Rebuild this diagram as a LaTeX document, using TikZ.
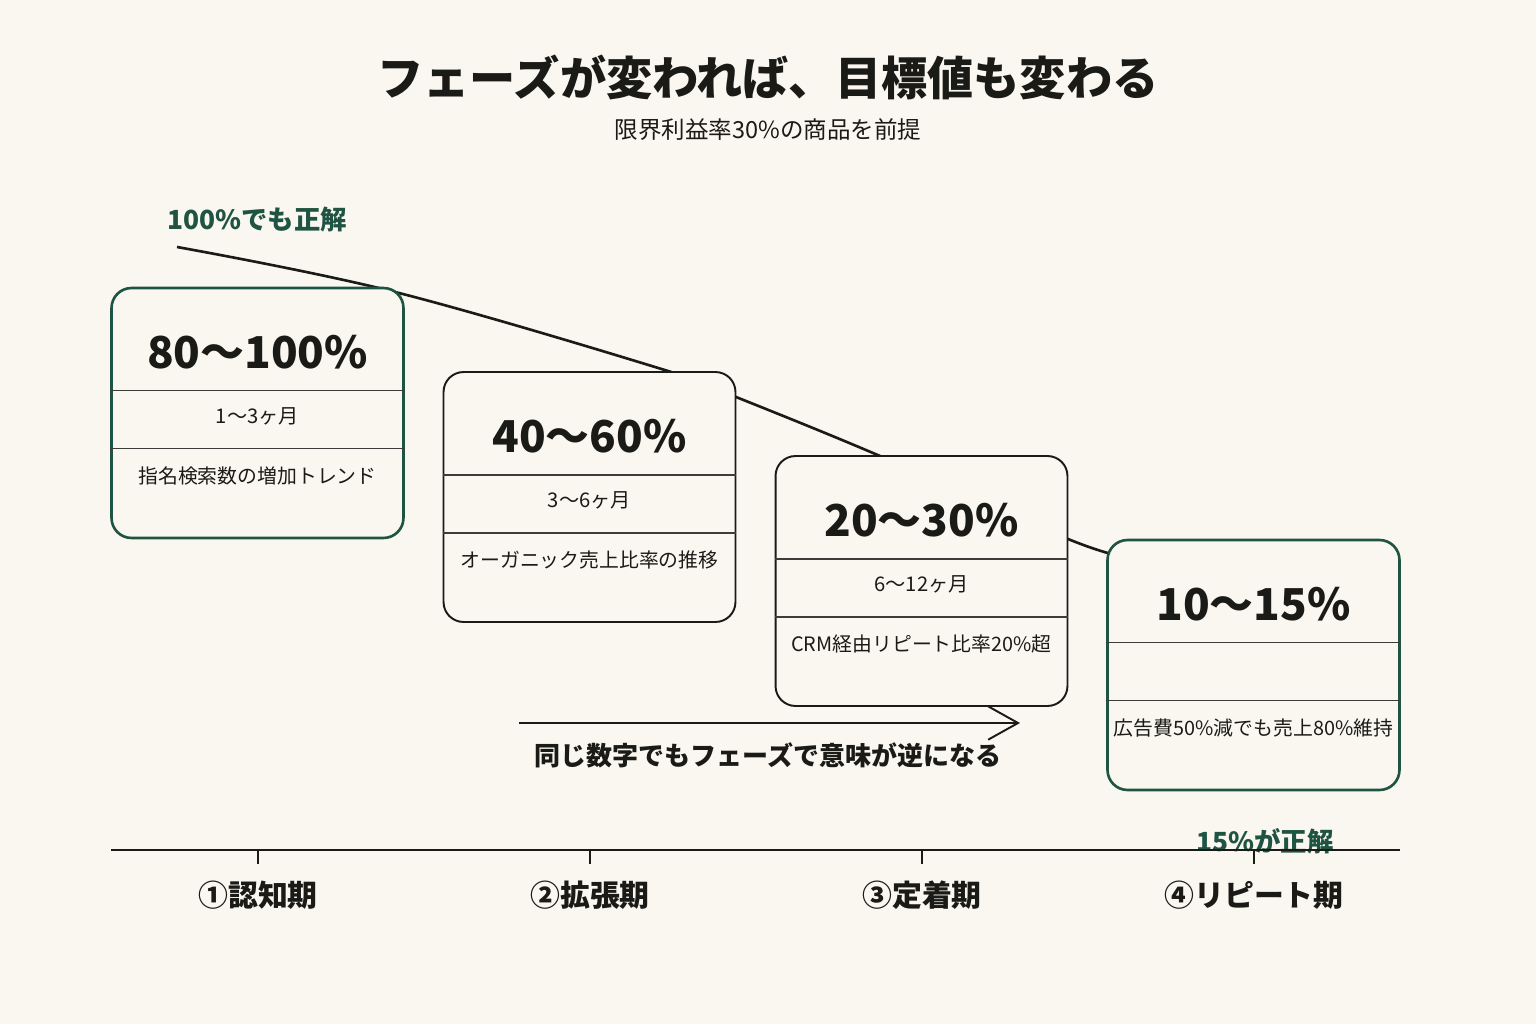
\documentclass[tikz,border=0pt]{standalone}
\usepackage{fontspec}
\setmainfont{Noto Sans CJK JP}
\usetikzlibrary{arrows.meta}
\definecolor{paper}{HTML}{FAF7F1}
\definecolor{pine}{HTML}{1F5443}
\definecolor{ink}{HTML}{1A1A17}

\begin{document}
\begin{tikzpicture}[x=0.02cm, y=-0.02cm,
  phasebox/.style={draw=ink, line width=1.1pt, fill=paper, rounded corners=0.4cm,
    minimum width=5.84cm, minimum height=5cm, inner sep=0pt},
  keybox/.style={phasebox, draw=pine, line width=1.5pt},
  divider/.style={draw=ink!85, line width=0.8pt},
  valuetext/.style={font=\bfseries\fontsize{25}{30}\selectfont, text=ink},
  periodtext/.style={font=\fontsize{11.5}{14}\selectfont, text=ink},
  kpitext/.style={font=\fontsize{11.3}{13}\selectfont, text=ink},
  notetext/.style={font=\bfseries\fontsize{15}{18}\selectfont, text=pine},
  phaselabel/.style={font=\bfseries\fontsize{17}{20}\selectfont, text=ink}]
\fill[paper] (0,0) rectangle (1536,1024);
\useasboundingbox (0,0) rectangle (1536,1024);

% title
\node[font=\bfseries\fontsize{26.3}{31}\selectfont, text=ink] (title) at (768,77) {フェーズが変われば、目標値も変わる};
\node[font=\fontsize{13.4}{16}\selectfont, text=ink] (subtitle) at (768,130) {限界利益率30\%の商品を前提};

% trend line behind the boxes
\draw[ink, line width=1.5pt] plot[smooth, tension=0.6] coordinates
  {(177,247) (395,292) (668,371) (736,397) (880,456) (1068,539) (1130,558)};
\node[notetext] (ok100) at (257,219) {100\%でも正解};

% phase boxes
\node[keybox] (b1) at (257.5,413) {};
\node[phasebox] (b2) at (589.5,497) {};
\node[phasebox] (b3) at (921.5,581) {};
\node[keybox] (b4) at (1253.5,665) {};
\foreach \b in {b1,b2,b3,b4} {
  \draw[divider] ([yshift=-2.08cm]\b.north west) -- ([yshift=-2.08cm]\b.north east);
  \draw[divider] ([yshift=-3.24cm]\b.north west) -- ([yshift=-3.24cm]\b.north east);
}

\node[valuetext] (v1) at (257.5,352) {80〜100\%};
\node[periodtext] (t1) at (257.5,416) {1〜3ヶ月};
\node[kpitext] (k1) at (257.5,476) {指名検索数の増加トレンド};

\node[valuetext] (v2) at (589.5,436) {40〜60\%};
\node[periodtext] (t2) at (589.5,500) {3〜6ヶ月};
\node[kpitext] (k2) at (589.5,560) {オーガニック売上比率の推移};

\node[valuetext] (v3) at (921.5,520) {20〜30\%};
\node[periodtext] (t3) at (921.5,584) {6〜12ヶ月};
\node[kpitext] (k3) at (921.5,644) {CRM経由リピート比率20\%超};

\node[valuetext] (v4) at (1253.5,604) {10〜15\%};
\node[kpitext] (k4) at (1253.5,728) {広告費50\%減でも売上80\%維持};

% meaning flips
\coordinate (arrS) at (519,723);
\coordinate (arrE) at (1020,723);
\draw[ink, line width=1.1pt, -{Straight Barb[length=17pt, width=19pt]}] (arrS) -- (arrE);
\node[font=\bfseries\fontsize{14.8}{17}\selectfont, text=ink] (flip) at (768,755) {同じ数字でもフェーズで意味が逆になる};

% phase axis
\node[notetext] (ok15) at (1265,841) {15\%が正解};
\coordinate (axL) at (111,850);
\coordinate (axR) at (1400,850);
\draw[ink, line width=1.1pt] (axL) -- (axR);
\foreach \x in {258,590,922,1254}
  \draw[ink, line width=1pt] (\x,850) -- (\x,864);
\node[phaselabel] (p1) at (258,895) {①認知期};
\node[phaselabel] (p2) at (590,895) {②拡張期};
\node[phaselabel] (p3) at (922,895) {③定着期};
\node[phaselabel] (p4) at (1254,895) {④リピート期};
\end{tikzpicture}
\end{document}
